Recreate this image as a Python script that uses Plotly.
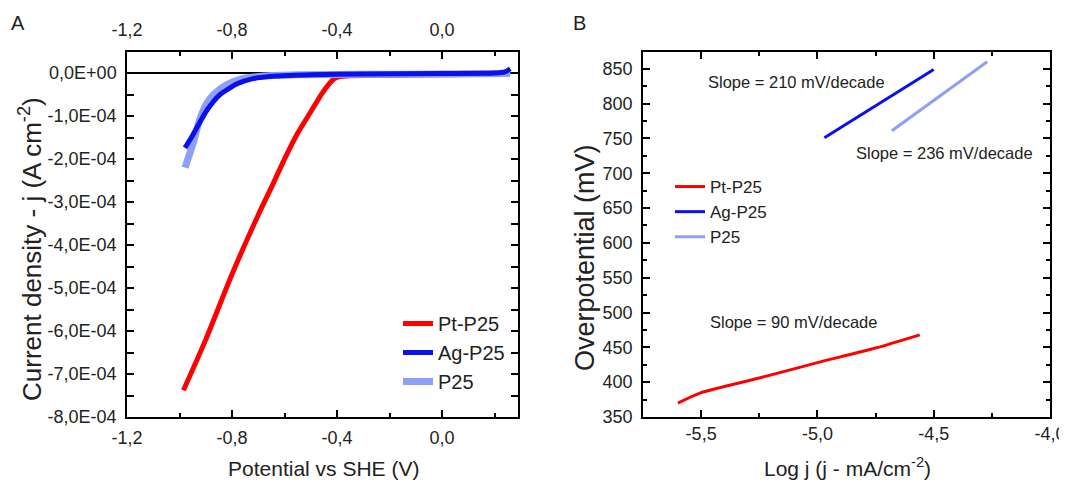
import plotly.graph_objects as go

# ---------------- Panel A data (LSV curves) ----------------
pt_x = [-0.985, -0.9, -0.8, -0.7, -0.65, -0.6, -0.55, -0.5, -0.46, -0.43, -0.41, -0.39,
        -0.35, -0.2, 0.0, 0.25]
pt_y = [-7.38e-4, -6.20e-4, -4.68e-4, -3.30e-4, -2.66e-4, -2.00e-4, -1.40e-4, -0.90e-4,
        -0.50e-4, -0.25e-4, -0.13e-4, -0.08e-4, -0.06e-4, -0.05e-4, -0.04e-4, -0.03e-4]

ag_x = [-0.979, -0.955, -0.933, -0.895, -0.846, -0.78, -0.72, -0.63, -0.5, -0.3, 0.0, 0.2,
        0.24, 0.26]
ag_y = [-1.74e-4, -1.50e-4, -1.26e-4, -0.86e-4, -0.50e-4, -0.25e-4, -0.13e-4, -0.07e-4,
        -0.04e-4, -0.02e-4, -0.01e-4, 0.0, 0.03e-4, 0.1e-4]

p25_x = [-0.979, -0.948, -0.925, -0.9, -0.87, -0.82, -0.76, -0.68, -0.55, -0.3, 0.0, 0.26]
p25_y = [-2.2e-4, -1.63e-4, -1.12e-4, -0.74e-4, -0.50e-4, -0.27e-4, -0.13e-4, -0.07e-4,
         -0.04e-4, -0.03e-4, -0.02e-4, -0.01e-4]

# ---------------- Panel B data (Tafel) ----------------
tpt_x = [-5.6, -5.5, -5.25, -5.0, -4.75, -4.56]
tpt_y = [370, 385, 406, 428, 449, 468]
tag_x = [-4.97, -4.75, -4.5]
tag_y = [751, 797, 849]
tp25_x = [-4.68, -4.27]
tp25_y = [761, 860]

# ---------------- ticks ----------------
a_xticks = [-1.2, -0.8, -0.4, 0.0]
a_xtext = ["-1,2", "-0,8", "-0,4", "0,0"]
a_yticks = [0, -1e-4, -2e-4, -3e-4, -4e-4, -5e-4, -6e-4, -7e-4, -8e-4]
a_ytext = ["0,0E+00", "-1,0E-04", "-2,0E-04", "-3,0E-04", "-4,0E-04",
           "-5,0E-04", "-6,0E-04", "-7,0E-04", "-8,0E-04"]
b_xticks = [-5.5, -5.0, -4.5, -4.0]
b_xtext = ["-5,5", "-5,0", "-4,5", "-4,0"]
b_yticks = [350, 400, 450, 500, 550, 600, 650, 700, 750, 800, 850]
b_ytext = [str(v) for v in b_yticks]

names = ["Pt-P25", "Ag-P25", "P25"]
RED, BLUE, LBLUE = "#ff0000", "#0a10ee", "#8ea0f6"
FONT = "Liberation Sans, Arial, sans-serif"

# page body adds an 8px offset; the figure fills the rest of the 1067x483 window
OFF = 8
W, H = 1067 - OFF, 483 - OFF
def px(x):
    return (x - OFF) / W
def py(y):
    return 1 - (y - OFF) / H

fig = go.Figure()

# Panel A
fig.add_trace(go.Scatter(x=pt_x, y=pt_y, mode="lines", name=names[0],
                         line=dict(color=RED, width=5, shape="spline", smoothing=0.6),
                         xaxis="x", yaxis="y", legend="legend", legendrank=1))
fig.add_trace(go.Scatter(x=p25_x, y=p25_y, mode="lines", name=names[2],
                         line=dict(color=LBLUE, width=7, shape="spline", smoothing=0.6),
                         xaxis="x", yaxis="y", legend="legend", legendrank=3))
fig.add_trace(go.Scatter(x=ag_x, y=ag_y, mode="lines", name=names[1],
                         line=dict(color=BLUE, width=5, shape="spline", smoothing=0.6),
                         xaxis="x", yaxis="y", legend="legend", legendrank=2))
# carrier for the top (secondary) x axis of panel A
fig.add_trace(go.Scatter(x=a_xticks, y=[None] * len(a_xticks), mode="lines",
                         xaxis="x3", yaxis="y", showlegend=False, hoverinfo="skip"))

# Panel B
fig.add_trace(go.Scatter(x=tpt_x, y=tpt_y, mode="lines", name=names[0],
                         line=dict(color=RED, width=3, shape="spline", smoothing=0.6),
                         xaxis="x2", yaxis="y2", legend="legend2", legendrank=1))
fig.add_trace(go.Scatter(x=tag_x, y=tag_y, mode="lines", name=names[1],
                         line=dict(color=BLUE, width=3), xaxis="x2", yaxis="y2",
                         legend="legend2", legendrank=2))
fig.add_trace(go.Scatter(x=tp25_x, y=tp25_y, mode="lines", name=names[2],
                         line=dict(color=LBLUE, width=3), xaxis="x2", yaxis="y2",
                         legend="legend2", legendrank=3))

ax_common = dict(showgrid=False, showline=True, linecolor="black", linewidth=1.5,
                 ticks="inside", ticklen=7, tickwidth=1.5, tickcolor="black",
                 tickfont=dict(family=FONT, size=18, color="#222"), zeroline=False,
                 automargin=False)
minor_common = dict(ticks="inside", ticklen=4, tickwidth=1.5, tickcolor="black")

ydom = [py(417), py(52)]

fig.update_layout(
    width=W, height=H,
    margin=dict(l=0, r=0, t=0, b=0),
    paper_bgcolor="white", plot_bgcolor="white",
    font=dict(family=FONT, color="#222"),
    separators=", ",
    xaxis=dict(ax_common, domain=[px(127), px(518)], range=[-1.2, 0.2895],
               tickvals=a_xticks, ticktext=a_xtext, mirror=True, anchor="y",
               ticklabelstandoff=4,
               minor=dict(minor_common, tick0=-1.2, dtick=0.2)),
    xaxis3=dict(ax_common, domain=[px(127), px(518)], range=[-1.2, 0.2895],
                tickvals=a_xticks, ticktext=a_xtext, overlaying="x", side="top",
                anchor="y", showline=False, ticklabelstandoff=11,
                minor=dict(minor_common, tick0=-1.2, dtick=0.2)),
    yaxis=dict(ax_common, domain=ydom, range=[-8e-4, 0.49e-4], anchor="x",
               tickvals=a_yticks, ticktext=a_ytext, mirror="allticks",
               ticklabelstandoff=5,
               zeroline=True, zerolinecolor="black", zerolinewidth=1.5,
               minor=dict(minor_common, tick0=0, dtick=0.5e-4)),
    xaxis2=dict(ax_common, domain=[px(643), px(1050)], range=[-5.75, -4.0], anchor="y2",
                tickvals=b_xticks, ticktext=b_xtext, mirror="allticks",
                ticklabelstandoff=0,
                minor=dict(minor_common, tick0=-5.5, dtick=0.25)),
    yaxis2=dict(ax_common, domain=ydom, range=[350, 874], anchor="x2",
                tickvals=b_yticks, ticktext=b_ytext, mirror="allticks",
                ticklabelstandoff=5,
                minor=dict(minor_common, tick0=350, dtick=25)),
    legend=dict(x=px(398), y=py(304), xanchor="left", yanchor="top",
                bgcolor="rgba(0,0,0,0)", font=dict(family=FONT, size=20, color="#222"),
                tracegroupgap=0, itemwidth=30),
    legend2=dict(x=px(670), y=py(169), xanchor="left", yanchor="top",
                 bgcolor="rgba(0,0,0,0)", font=dict(family=FONT, size=17, color="#222"),
                 tracegroupgap=0, itemwidth=30),
    showlegend=True,
)

def label(text, x, y, size, ref=("paper", "paper"), angle=0):
    return dict(text=text, x=x, y=y, xref=ref[0], yref=ref[1], showarrow=False,
                xanchor="center", yanchor="middle", textangle=angle,
                font=dict(size=size, family=FONT, color="#222"))

ann = [
    label("A", px(18), py(23), 20),
    label("B", px(579), py(23), 20),
    label("Potential vs SHE (V)", px(323), py(468), 21),
    label("Log j (j - mA/cm<sup>-2</sup>)", px(847), py(467), 21),
    label("Current density - j (A cm<sup>-2</sup>)", px(30), py(249), 26, angle=-90),
    label("Overpotential (mV)", px(585), py(258), 27, angle=-90),
    label("Slope = 210 mV/decade", -5.088, 831, 16.5, ref=("x2", "y2")),
    label("Slope = 236 mV/decade", -4.452, 729, 16.5, ref=("x2", "y2")),
    label("Slope = 90 mV/decade", -5.105, 486, 16.5, ref=("x2", "y2")),
]
fig.update_layout(annotations=ann)

fig.write_html("out.html")
